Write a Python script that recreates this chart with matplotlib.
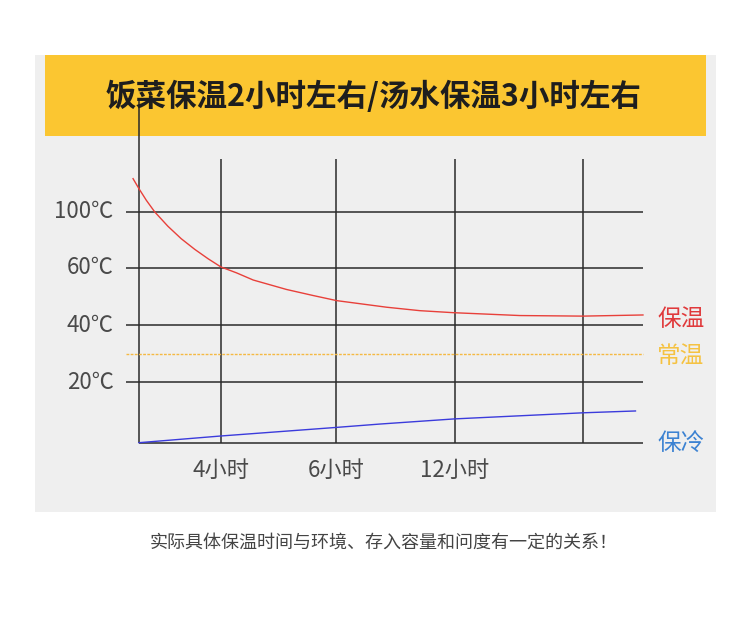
import numpy as np
import matplotlib
matplotlib.use('Agg')
import matplotlib.pyplot as plt
from matplotlib.patches import Rectangle

plt.rcParams['font.family'] = ['Noto Sans CJK SC', 'DejaVu Sans']

# Dados (horas, °C)
titulo = '饭菜保温2小时左右/汤水保温3小时左右'
rodape = '实际具体保温时间与环境、存入容量和问度有一定的关系！'

horas_ticks = [4, 6, 12, 24]
horas_labels = ['4小时', '6小时', '12小时', '']
temp_ticks = [20, 40, 60, 100]
temp_labels = ['20℃', '40℃', '60℃', '100℃']

quente_h = [-0.29, 0, 0.36, 0.77, 1.41, 2.06, 2.72, 3.37, 4.0, 4.27, 4.56, 5.14,
            5.6, 6.04, 8.57, 10.25, 11.94, 18.1, 24, 29.6]
quente_t = [123.6, 116.4, 108.1, 99.8, 89.6, 80.7, 73.1, 66.4, 60.5, 58.2, 55.7, 52.4,
            50.3, 48.5, 46.2, 45.0, 44.3, 43.3, 43.1, 43.5]

frio_h = [0, 4, 6, 8.2, 12, 24, 28.9]
frio_t = [0.2, 2.4, 5.2, 6.3, 8.0, 10.0, 10.6]

ambiente_t = 30

legenda = ['保温', '常温', '保冷']
legenda_y = [42, 29, 0]
legenda_cores = ['#e0393b', '#f5c242', '#3c82d2']


# Escalas não lineares do desenho original (interpolação por trechos)
def escala(nos, pix):
    nos = np.asarray(nos, float)
    pix = np.asarray(pix, float)
    s0 = (pix[1] - pix[0]) / (nos[1] - nos[0])
    s1 = (pix[-1] - pix[-2]) / (nos[-1] - nos[-2])

    def fwd(v):
        v = np.asarray(v, float)
        out = np.interp(v, nos, pix)
        out = np.where(v < nos[0], pix[0] + (v - nos[0]) * s0, out)
        out = np.where(v > nos[-1], pix[-1] + (v - nos[-1]) * s1, out)
        return out

    def inv(p):
        p = np.asarray(p, float)
        out = np.interp(p, pix, nos)
        out = np.where(p < pix[0], nos[0] + (p - pix[0]) / s0, out)
        out = np.where(p > pix[-1], nos[-1] + (p - pix[-1]) / s1, out)
        return out

    return fwd, inv


fx, ix = escala([0, 4, 6, 12, 24], [0, 82, 197, 315.5, 444])
fy, iy = escala([0, 20, 40, 60, 100], [0, 61, 118.3, 175.6, 231.6])

W, H = 750, 619
fig = plt.figure(figsize=(7.5, 6.19), dpi=100)
fig.patch.set_facecolor('white')


def fxy(px, py):
    return px / W, 1 - py / H


# Painel cinza e faixa amarela
fig.patches.append(Rectangle(fxy(35, 512), 681 / W, 457 / H, transform=fig.transFigure,
                             facecolor='#efefef', edgecolor='none', zorder=-10))
fig.patches.append(Rectangle(fxy(45, 136), 661 / W, 81 / H, transform=fig.transFigure,
                             facecolor='#fbc631', edgecolor='none', zorder=-9))

# Eixos posicionados em pixels
esq, dir_, topo, base = 120, 650, 95, 450
ax = fig.add_axes([esq / W, 1 - base / H, (dir_ - esq) / W, (base - topo) / H])
ax.set_facecolor('none')
ax.set_zorder(1)
ax.set_xscale('function', functions=(fx, ix))
ax.set_yscale('function', functions=(fy, iy))
ax.set_xlim(float(ix(esq - 139)), float(ix(dir_ - 139)))
ax.set_ylim(float(iy(443.3 - base)), float(iy(443.3 - topo)))
for s in ax.spines.values():
    s.set_visible(False)
ax.set_xticks([])
ax.set_yticks([])

x_ini = float(ix(125.7 - 139))
x_fim = float(ix(643.3 - 139))
topo_v = float(iy(443.3 - 159))
topo_eixo = float(iy(443.3 - 100))
cor_grade = '#2a2a2a'

# Grade
ax.plot([0, x_fim], [0, 0], color=cor_grade, lw=1.1, solid_capstyle='butt')
for t in temp_ticks:
    ax.plot([x_ini, x_fim], [t, t], color=cor_grade, lw=1.1, solid_capstyle='butt')
for h in horas_ticks:
    ax.plot([h, h], [0, topo_v], color=cor_grade, lw=1.1, solid_capstyle='butt')
ax.plot([0, 0], [0, topo_eixo], color=cor_grade, lw=1.1, solid_capstyle='butt', clip_on=False)

# Séries
ax.plot([x_ini, x_fim], [ambiente_t, ambiente_t], color='#f5b942', lw=1.0,
        linestyle=(0, (2, 1)))
ax.plot(quente_h, quente_t, color='#e8403a', lw=1.0)
ax.plot(frio_h, frio_t, color='#3b3bdc', lw=1.0)

# Rótulos dos eixos
for h, lab in zip(horas_ticks, horas_labels):
    ax.annotate(lab, (h, 0), xytext=(0, -27), textcoords='offset pixels',
                ha='center', va='center', fontsize=16, color='#4a4a4a',
                fontweight='light')
for t, lab in zip(temp_ticks, temp_labels):
    ax.annotate(lab, (x_ini, t), xytext=(-12, 0), textcoords='offset pixels',
                ha='right', va='center', fontsize=16, color='#4a4a4a',
                fontweight='light')
for lab, y, c in zip(legenda, legenda_y, legenda_cores):
    ax.annotate(lab, (x_fim, y), xytext=(14, 0), textcoords='offset pixels',
                ha='left', va='center', fontsize=17, color=c, annotation_clip=False,
                fontweight='light')

# Título e rodapé
fig.text(*fxy(374, 97), titulo, ha='center', va='center', fontsize=22,
         fontweight='bold', color='#1e1e1e', zorder=5)
fig.text(*fxy(384, 543), rodape, ha='center', va='center', fontsize=13, color='#444444')

fig.savefig('out.png', dpi=100, facecolor='white')
